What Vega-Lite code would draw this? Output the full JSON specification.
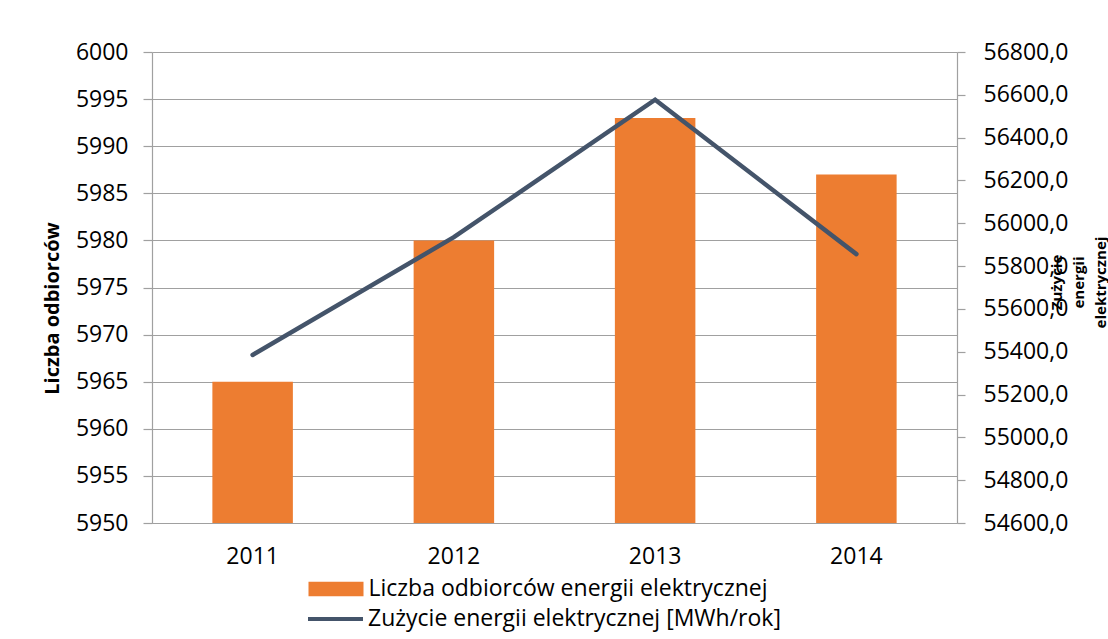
{
  "$schema": "https://vega.github.io/schema/vega-lite/v6.json",
  "autosize": "none",
  "width": 805,
  "height": 471,
  "padding": {"left": 152, "top": 52, "right": 151, "bottom": 116},
  "background": "white",
  "config": {
    "font": "Open Sans",
    "view": {"stroke": null},
    "axis": {"labelFont": "Open Sans", "labelFontSize": 23, "labelColor": "#000000", "titleFont": "Open Sans", "titleColor": "#000000"}
  },
  "data": {
    "values": [
      {"rok": "2011", "odbiorcy": 5965, "zuzycie": 55385},
      {"rok": "2012", "odbiorcy": 5980, "zuzycie": 55935},
      {"rok": "2013", "odbiorcy": 5993, "zuzycie": 56577},
      {"rok": "2014", "odbiorcy": 5987, "zuzycie": 55856}
    ]
  },
  "encoding": {
    "x": {
      "field": "rok", "type": "nominal", "sort": null,
      "scale": {"paddingInner": 0.6, "paddingOuter": 0.3},
      "axis": {"title": null, "labelAngle": 0, "ticks": false, "labelPadding": 22, "domainColor": "#a0a0a0", "domainWidth": 1.2, "grid": false}
    }
  },
  "layer": [
    {
      "mark": {"type": "bar", "color": "#ED7D31", "clip": true},
      "encoding": {
        "y": {
          "field": "odbiorcy", "type": "quantitative",
          "scale": {"domain": [5950, 6000], "nice": false, "zero": false},
          "axis": {
            "title": "Liczba odbiorców",
            "titleFontSize": 20, "titleFontWeight": "bold",
            "titleAngle": 270, "titleAlign": "center", "titleBaseline": "middle",
            "titleX": -100, "titleY": 256,
            "values": [5950, 5955, 5960, 5965, 5970, 5975, 5980, 5985, 5990, 5995, 6000],
            "format": "d",
            "grid": true, "gridColor": "#a0a0a0", "gridWidth": 1.2,
            "domainColor": "#a0a0a0", "domainWidth": 1.2,
            "tickColor": "#a0a0a0", "tickSize": 9, "tickWidth": 1.2,
            "labelPadding": 15
          }
        },
        "y2": {"datum": 5950},
        "fill": {
          "datum": "Liczba odbiorców energii elektrycznej",
          "scale": {"range": ["#ED7D31"]},
          "legend": {
            "title": null, "orient": "none", "legendX": 156.5, "legendY": 509.5,
            "padding": 0,
            "symbolType": "M-1,-0.26H1V0.26H-1Z", "symbolSize": 3025,
            "symbolStrokeWidth": 0, "symbolFillColor": "#ED7D31",
            "labelFont": "Open Sans", "labelFontSize": 23, "labelColor": "#000000",
            "labelOffset": 5, "labelLimit": 700
          }
        }
      }
    },
    {
      "mark": {"type": "line", "color": "#44546A", "strokeWidth": 4.5, "strokeCap": "round", "strokeJoin": "miter"},
      "encoding": {
        "y": {
          "field": "zuzycie", "type": "quantitative",
          "scale": {"domain": [54600, 56800], "nice": false, "zero": false},
          "axis": {
            "orient": "right",
            "title": ["Zużycie", "energii", "elektrycznej"],
            "titleFontSize": 15, "titleFontWeight": "bold", "titleLineHeight": 22,
            "titleAngle": 270, "titleAlign": "center", "titleBaseline": "top",
            "titleX": 92, "titleY": 230,
            "values": [54600, 54800, 55000, 55200, 55400, 55600, 55800, 56000, 56200, 56400, 56600, 56800],
            "labelExpr": "replace(format(datum.value, '.1f'), '.', ',')",
            "grid": false,
            "domainColor": "#a0a0a0", "domainWidth": 1.2,
            "tickColor": "#a0a0a0", "tickSize": 8, "tickWidth": 1.2,
            "labelPadding": 18
          }
        },
        "stroke": {
          "datum": "Zużycie energii elektrycznej [MWh/rok]",
          "scale": {"range": ["#44546A"]},
          "legend": {
            "title": null, "orient": "none", "legendX": 154, "legendY": 537.5,
            "padding": 0,
            "symbolType": "stroke", "symbolSize": 3025,
            "symbolStrokeWidth": 4, "symbolStrokeColor": "#44546A",
            "labelFont": "Open Sans", "labelFontSize": 23, "labelColor": "#000000",
            "labelOffset": 3, "labelLimit": 700
          }
        }
      }
    }
  ],
  "resolve": {"scale": {"y": "independent"}}
}
